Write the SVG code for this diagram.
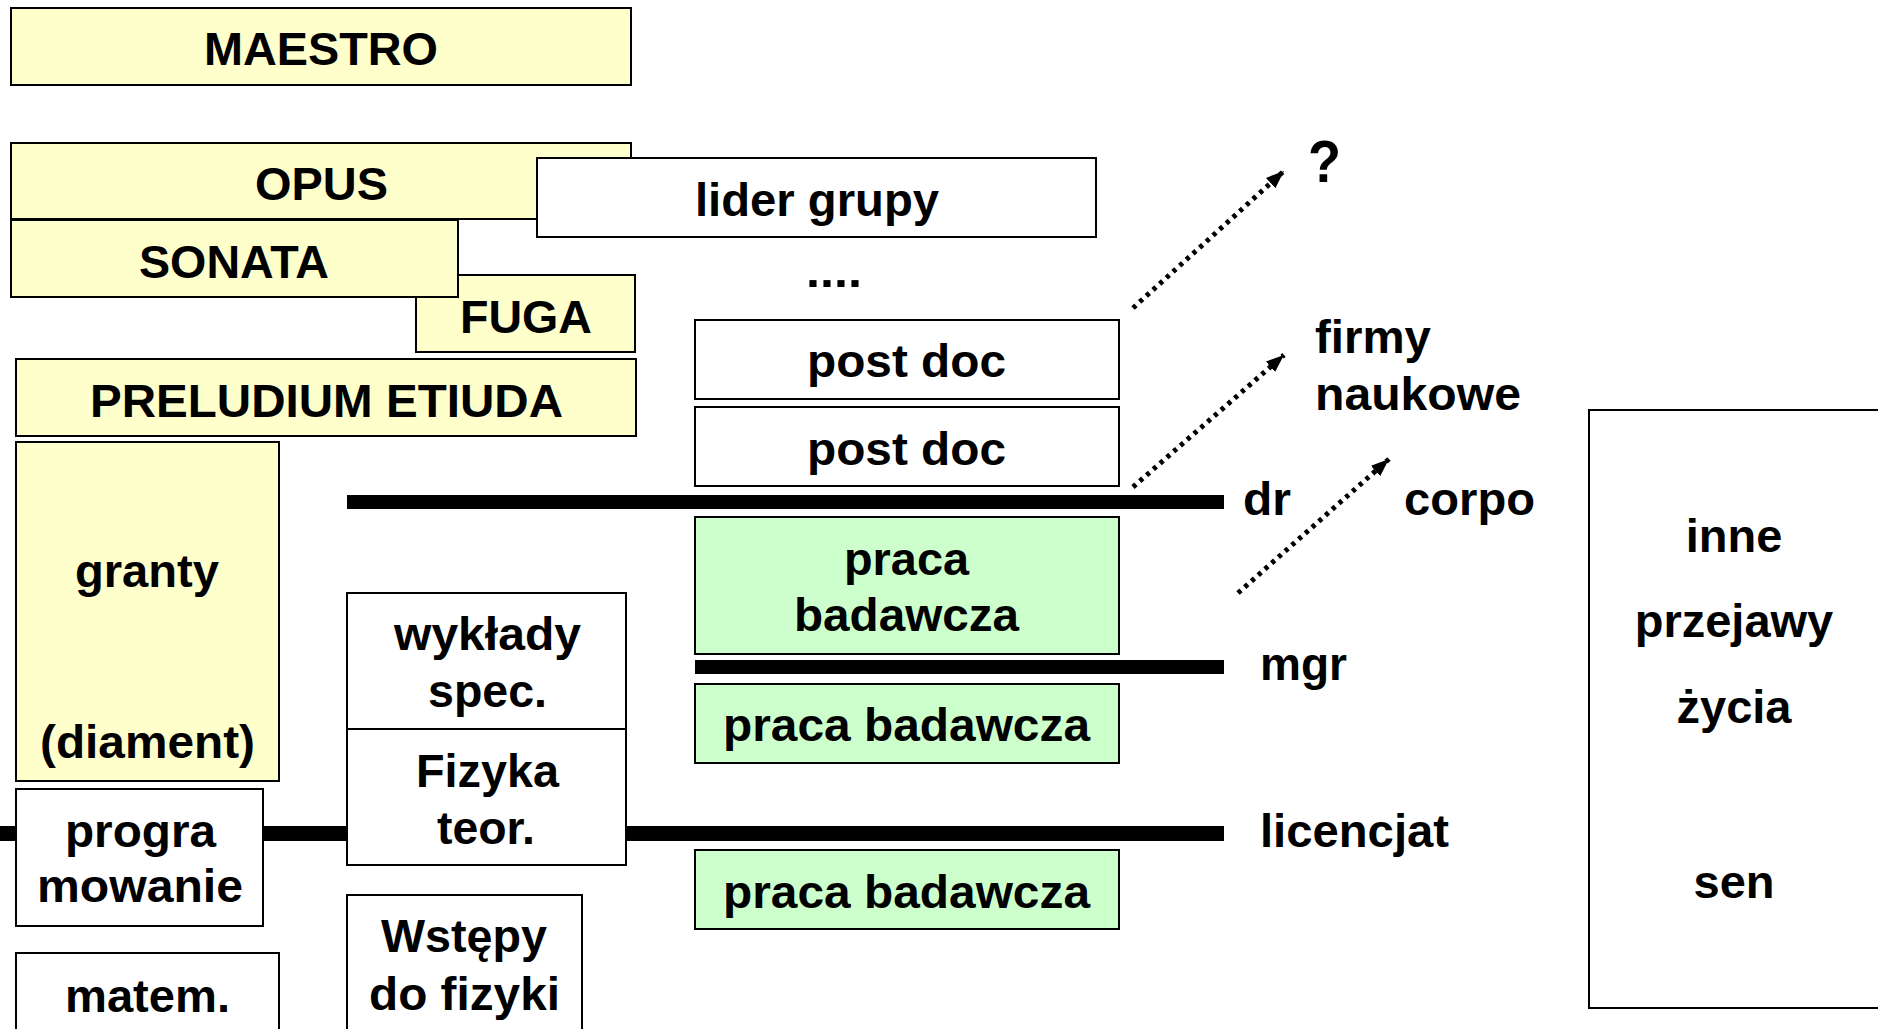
<svg xmlns="http://www.w3.org/2000/svg" width="1878" height="1029" viewBox="0 0 1878 1029">
<defs>
<style>
.y{fill:#FFFFCC;stroke:#000;stroke-width:2}
.g{fill:#CCFFCC;stroke:#000;stroke-width:2}
.w{fill:#FFFFFF;stroke:#000;stroke-width:2}
.t{font-family:"Liberation Sans Narrow","Liberation Sans",Arial,sans-serif;font-weight:bold;font-size:47px;fill:#000}
.r{font-family:"Liberation Sans",Arial,sans-serif;font-weight:bold;font-size:47px;fill:#000;text-anchor:middle}
.bar{fill:#000}
.dot{fill:none;stroke:#000;stroke-width:5;stroke-dasharray:4 5}
</style>
<marker id="ah" markerUnits="userSpaceOnUse" markerWidth="20" markerHeight="16" refX="18" refY="7" orient="auto">
<path d="M0,0 L18,7 L0,14 z" fill="#000"/>
</marker>
</defs>
<rect width="1878" height="1029" fill="#fff"/>

<g id="bars">
<rect class="bar" x="347" y="495" width="877" height="14"/>
<rect class="bar" x="695" y="660" width="529" height="14"/>
<rect class="bar" x="0" y="826" width="1224" height="15"/>
</g>

<g id="maestro"><rect class="y" x="11" y="8" width="620" height="77"/><text class="t" x="204" y="65" textLength="234" lengthAdjust="spacingAndGlyphs">MAESTRO</text></g>
<g id="opus"><rect class="y" x="11" y="143" width="620" height="76"/><text class="t" x="255" y="200" textLength="133" lengthAdjust="spacingAndGlyphs">OPUS</text></g>
<g id="lider"><rect class="w" x="537" y="158" width="559" height="79"/><text class="t" x="695" y="216" textLength="244" lengthAdjust="spacingAndGlyphs">lider grupy</text></g>
<g id="fuga"><rect class="y" x="416" y="275" width="219" height="77"/><text class="t" x="460" y="333" textLength="132" lengthAdjust="spacingAndGlyphs">FUGA</text></g>
<g id="sonata"><rect class="y" x="11" y="220" width="447" height="77"/><text class="t" x="139" y="278" textLength="190" lengthAdjust="spacingAndGlyphs">SONATA</text></g>
<g id="preludium"><rect class="y" x="16" y="359" width="620" height="77"/><text class="t" x="90" y="417" textLength="473" lengthAdjust="spacingAndGlyphs">PRELUDIUM ETIUDA</text></g>
<g id="granty"><rect class="y" x="16" y="442" width="263" height="339"/><text class="t" x="75" y="587" textLength="144" lengthAdjust="spacingAndGlyphs">granty</text><text class="t" x="40" y="758" textLength="215" lengthAdjust="spacingAndGlyphs">(diament)</text></g>
<g id="programowanie"><rect class="w" x="16" y="789" width="247" height="137"/><text class="t" x="65" y="847" textLength="151" lengthAdjust="spacingAndGlyphs">progra</text><text class="t" x="37" y="902" textLength="206" lengthAdjust="spacingAndGlyphs">mowanie</text></g>
<g id="matem"><rect class="w" x="16" y="953" width="263" height="90"/><text class="t" x="65" y="1012" textLength="165" lengthAdjust="spacingAndGlyphs">matem.</text></g>
<g id="wyklady"><rect class="w" x="347" y="593" width="279" height="136"/><text class="t" x="394" y="650" textLength="187" lengthAdjust="spacingAndGlyphs">wykłady</text><text class="t" x="428" y="707" textLength="119" lengthAdjust="spacingAndGlyphs">spec.</text></g>
<g id="fizyka"><rect class="w" x="347" y="729" width="279" height="136"/><text class="t" x="416" y="787" textLength="143" lengthAdjust="spacingAndGlyphs">Fizyka</text><text class="t" x="437" y="844" textLength="98" lengthAdjust="spacingAndGlyphs">teor.</text></g>
<g id="wstepy"><rect class="w" x="347" y="895" width="235" height="150"/><text class="t" x="381" y="952" textLength="166" lengthAdjust="spacingAndGlyphs">Wstępy</text><text class="t" x="369" y="1010" textLength="191" lengthAdjust="spacingAndGlyphs">do fizyki</text></g>
<g id="dots"><text class="t" x="806" y="287" textLength="56" lengthAdjust="spacingAndGlyphs">....</text></g>
<g id="postdoc1"><rect class="w" x="695" y="320" width="424" height="79"/><text class="t" x="807" y="377" textLength="199" lengthAdjust="spacingAndGlyphs">post doc</text></g>
<g id="postdoc2"><rect class="w" x="695" y="407" width="424" height="79"/><text class="t" x="807" y="465" textLength="199" lengthAdjust="spacingAndGlyphs">post doc</text></g>
<g id="praca1"><rect class="g" x="695" y="517" width="424" height="137"/><text class="t" x="844" y="575" textLength="125" lengthAdjust="spacingAndGlyphs">praca</text><text class="t" x="794" y="631" textLength="225" lengthAdjust="spacingAndGlyphs">badawcza</text></g>
<g id="praca2"><rect class="g" x="695" y="684" width="424" height="79"/><text class="t" x="723" y="741" textLength="367" lengthAdjust="spacingAndGlyphs">praca badawcza</text></g>
<g id="praca3"><rect class="g" x="695" y="850" width="424" height="79"/><text class="t" x="723" y="908" textLength="367" lengthAdjust="spacingAndGlyphs">praca badawcza</text></g>

<g id="labels">
<text class="t" x="1243" y="515" textLength="48" lengthAdjust="spacingAndGlyphs">dr</text>
<text class="t" x="1404" y="515" textLength="131" lengthAdjust="spacingAndGlyphs">corpo</text>
<text class="t" x="1260" y="680" textLength="87" lengthAdjust="spacingAndGlyphs">mgr</text>
<text class="t" x="1260" y="847" textLength="189" lengthAdjust="spacingAndGlyphs">licencjat</text>
<text class="t" x="1315" y="353" textLength="116" lengthAdjust="spacingAndGlyphs">firmy</text>
<text class="t" x="1315" y="410" textLength="206" lengthAdjust="spacingAndGlyphs">naukowe</text>
<text class="t" x="1308" y="182" textLength="33" lengthAdjust="spacingAndGlyphs" style="font-size:60px">?</text>
</g>

<g id="zycie"><rect class="w" x="1589" y="410" width="300" height="598"/>
<text class="r" x="1734" y="552">inne</text>
<text class="r" x="1734" y="637">przejawy</text>
<text class="r" x="1734" y="723">życia</text>
<text class="r" x="1734" y="898">sen</text>
</g>

<g id="connectors">
<line class="dot" x1="1133" y1="308" x2="1284" y2="171" marker-end="url(#ah)"/>
<line class="dot" x1="1133" y1="487" x2="1284" y2="355" marker-end="url(#ah)"/>
<line class="dot" x1="1238" y1="593" x2="1389" y2="459" marker-end="url(#ah)"/>
</g>
</svg>
